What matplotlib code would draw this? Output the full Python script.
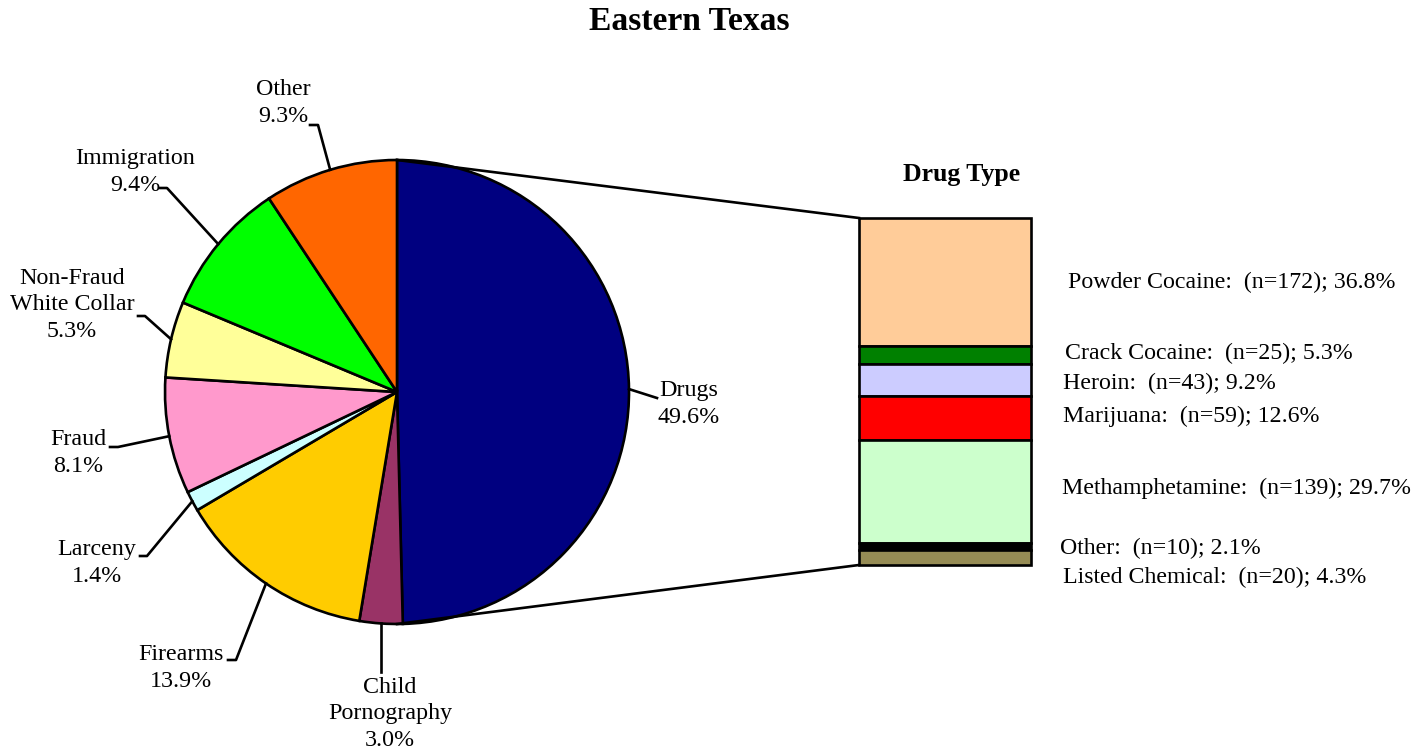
import numpy as np
import matplotlib
matplotlib.use("Agg")
import matplotlib.pyplot as plt

plt.rcParams['font.family'] = ['Liberation Serif', 'DejaVu Serif']

# ---- data ----
pie_labels = ["Drugs", "Child\nPornography", "Firearms", "Larceny", "Fraud",
              "Non-Fraud\nWhite Collar", "Immigration", "Other"]
pie_values = [49.6, 3.0, 13.9, 1.4, 8.1, 5.3, 9.4, 9.3]
pie_colors = ["#000080", "#993366", "#FFCC00", "#CCFFFF", "#FF99CC",
              "#FFFF99", "#00FF00", "#FF6600"]

drug_types = ["Powder Cocaine", "Crack Cocaine", "Heroin", "Marijuana",
              "Methamphetamine", "Other", "Listed Chemical"]
drug_n = [172, 25, 43, 59, 139, 10, 20]
drug_pct = [36.8, 5.3, 9.2, 12.6, 29.7, 2.1, 4.3]
drug_colors = ["#FFCC99", "#008000", "#CCCCFF", "#FF0000", "#CCFFCC",
               "#000000", "#968C55"]

W, H = 1426, 755
def Y(py):
    return H - py

LW = 1.9

fig = plt.figure(figsize=(W / 100, H / 100), dpi=100)
ax = fig.add_axes([0, 0, 1, 1])

cx, cy, R = 397, Y(392), 232
wedges, _ = ax.pie(pie_values, colors=pie_colors, startangle=90, counterclock=False,
                   center=(cx, cy), radius=R,
                   wedgeprops=dict(edgecolor="black", linewidth=LW))

# ---- bar ----
bar_x0, bar_w = 859, 172
bar_top, bar_bot = Y(218), Y(565)
scale = (bar_top - bar_bot) / 100.0
heights = [p * scale for p in drug_pct]
bottoms = []
acc = bar_top
for h in heights:
    acc -= h
    bottoms.append(acc)
ax.bar([bar_x0 + bar_w / 2] * len(heights), heights, width=bar_w, bottom=bottoms,
       color=drug_colors, edgecolor="black", linewidth=LW)

# connector lines
ax.plot([cx, bar_x0], [cy + R, bar_top], color="black", lw=LW)
ax.plot([cx, bar_x0], [cy - R, bar_bot], color="black", lw=LW)

# bar labels
bar_label_x = [1068, 1065, 1063, 1063, 1062, 1060, 1063]
bar_label_y = [282, 353, 383, 416, 488, 548, 577]
for name, n, p, px, py in zip(drug_types, drug_n, drug_pct, bar_label_x, bar_label_y):
    ax.text(px, Y(py), f"{name}:  (n={n}); {p:.1f}%", ha="left", va="center",
            fontsize=17.2)

ax.text(962, Y(175), "Drug Type", ha="center", va="center", fontsize=18.5,
        fontweight="bold")
ax.text(689, Y(22), "Eastern Texas", ha="center", va="center", fontsize=24.2,
        fontweight="bold")

# pie labels
label_pos = [(689, 404), (390, 714), (181, 668), (97, 563), (78, 453),
             (72, 305), (135, 172), (283, 103)]
leader_start = [(657, 398), (None, 672), (228, 660), (140, 556), (110, 447),
                (138, 316), (160, 188), (310, 125)]
leader_elbow = [None, None, (236, 660), (147, 556), (118, 447),
                (145, 316), (167, 188), (318, 125)]

cum = np.cumsum([0] + pie_values)
for i, (lab, v) in enumerate(zip(pie_labels, pie_values)):
    ax.text(label_pos[i][0], Y(label_pos[i][1]), f"{lab}\n{v:.1f}%",
            ha="center", va="center", fontsize=17.3, linespacing=1.36)
    mid = (cum[i] + cum[i + 1]) / 2 / 100 * 360
    theta = np.deg2rad(90 - mid)
    ex, ey = cx + R * np.cos(theta), cy + R * np.sin(theta)
    sx = leader_start[i][0] if leader_start[i][0] is not None else ex
    xs = [sx]
    ys = [Y(leader_start[i][1])]
    if leader_elbow[i] is not None:
        xs.append(leader_elbow[i][0])
        ys.append(Y(leader_elbow[i][1]))
    xs.append(ex)
    ys.append(ey)
    ax.plot(xs, ys, color="black", lw=LW)

ax.set_xlim(0, W)
ax.set_ylim(0, H)
ax.set_aspect("equal")
ax.axis("off")
fig.savefig("out.png", dpi=100)
